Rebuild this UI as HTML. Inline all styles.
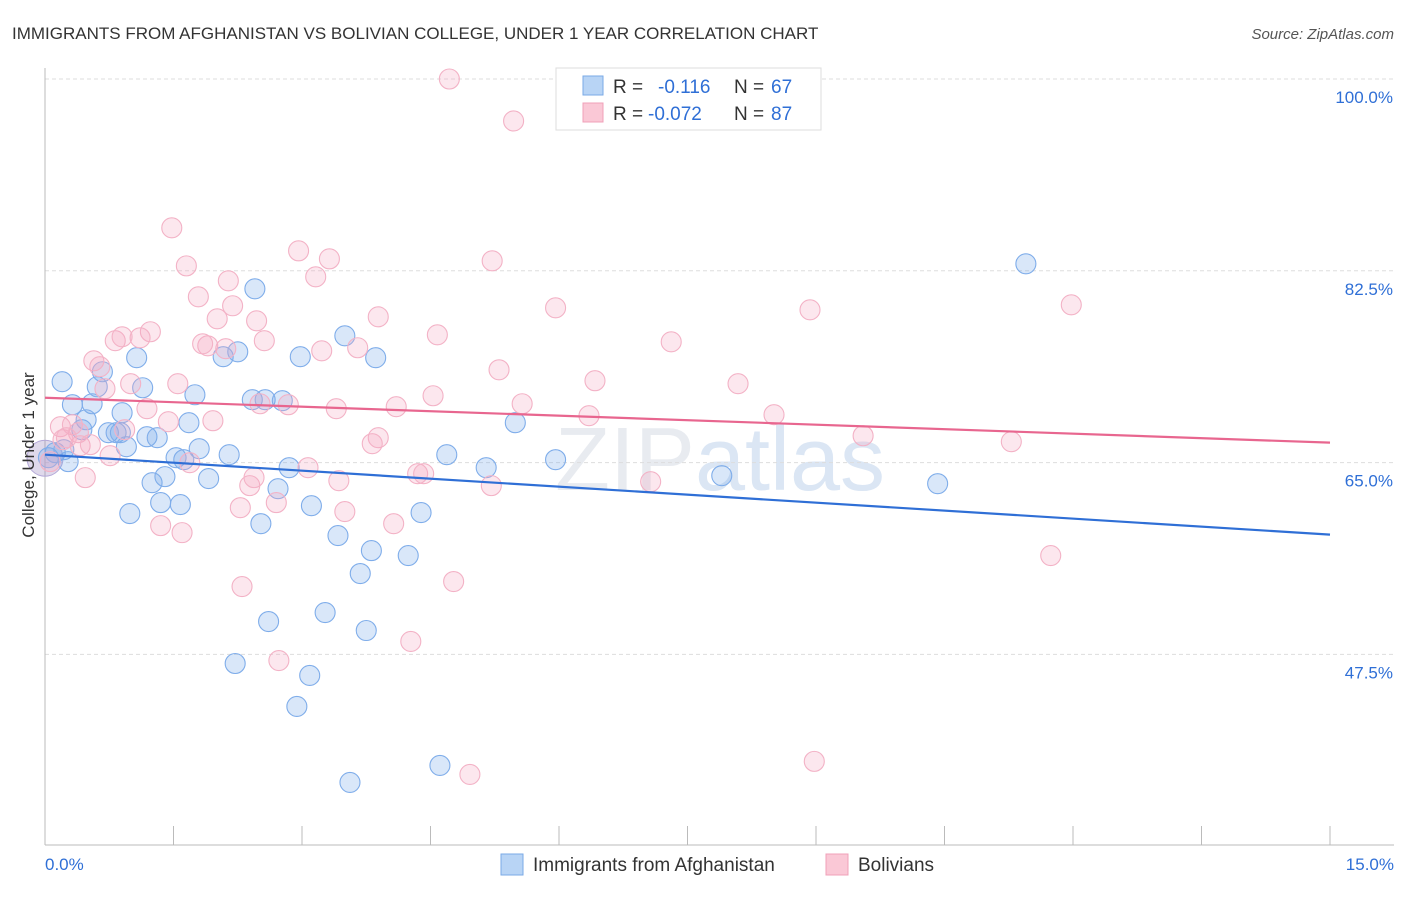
<!DOCTYPE html>
<html><head><meta charset="utf-8"><style>
body{margin:0;background:#fff;font-family:"Liberation Sans",sans-serif}
svg text{font-family:"Liberation Sans",sans-serif}
</style></head><body>
<svg id="chart" width="1406" height="892" viewBox="0 0 1406 892">
<text x="12" y="39" font-size="17" fill="#333">IMMIGRANTS FROM AFGHANISTAN VS BOLIVIAN COLLEGE, UNDER 1 YEAR CORRELATION CHART</text>
<text x="1394" y="39" font-size="15" fill="#555" text-anchor="end" font-style="italic">Source: ZipAtlas.com</text>
<text x="720" y="490" font-size="90" fill="#e8ebf0" text-anchor="middle" font-family="Liberation Serif">ZIP<tspan fill="#dbe6f4" font-family="Liberation Sans">atlas</tspan></text>
<g id="grid"></g>
<g id="axes"></g>
<g id="pts"></g>
<g id="lines"></g>
<text transform="translate(34,455) rotate(-90)" font-size="17" fill="#333" text-anchor="middle">College, Under 1 year</text>
<g>
<rect x="556" y="68" width="265" height="62" fill="#fff" stroke="#ddd"/>
<rect x="583" y="76" width="20" height="19" fill="#b8d4f5" stroke="#7aaae6"/>
<text x="613" y="93" font-size="19" fill="#333">R = </text><text x="658" y="93" font-size="19" fill="#2f6fd6">-0.116</text>
<text x="734" y="93" font-size="19" fill="#333">N = </text><text x="771" y="93" font-size="19" fill="#2f6fd6">67</text>
<rect x="583" y="103" width="20" height="19" fill="#fac8d6" stroke="#f0a0b8"/>
<text x="613" y="120" font-size="19" fill="#333">R = </text><text x="648" y="120" font-size="19" fill="#2f6fd6">-0.072</text>
<text x="734" y="120" font-size="19" fill="#333">N = </text><text x="771" y="120" font-size="19" fill="#2f6fd6">87</text>
</g>
<g>
<rect x="501" y="854" width="22" height="21" fill="#b8d4f5" stroke="#7aaae6"/>
<text x="533" y="871" font-size="19" fill="#333">Immigrants from Afghanistan</text>
<rect x="826" y="854" width="22" height="21" fill="#fac8d6" stroke="#f0a0b8"/>
<text x="858" y="871" font-size="19" fill="#333">Bolivians</text>
</g>
</svg>
<script>
const yTicks=[100,82.5,65,47.5];
const yTickLabels=["100.0%","82.5%","65.0%","47.5%"];
const xTickLabels=["0.0%","15.0%"];
const blueX=[0.20,0.32,0.55,0.48,0.61,0.67,0.90,0.74,0.83,0.95,0.43,0.27,0.12,0.04,1.07,1.14,1.19,1.31,1.25,1.40,1.58,1.35,0.99,1.53,1.62,1.68,1.75,1.80,1.91,2.15,2.08,2.25,2.45,2.42,2.57,2.77,2.98,2.85,2.72,2.52,3.11,2.61,2.22,3.09,2.94,3.27,3.42,3.50,3.68,3.81,3.86,3.75,4.24,4.39,4.69,5.15,5.49,5.96,7.90,10.42,11.45,3.56,4.61,0.22,0.88];
const blueY=[72.38,70.28,70.37,68.91,71.92,73.29,69.55,67.73,67.73,66.45,68.0,65.09,65.91,65.45,74.57,71.83,67.36,67.27,63.17,63.72,61.17,61.35,60.35,65.45,65.27,68.64,71.19,66.27,63.54,65.72,74.66,75.11,80.86,70.74,70.74,70.65,74.66,64.54,62.62,59.43,61.07,50.50,46.67,45.58,42.75,51.32,58.34,76.57,54.88,56.97,74.57,49.68,56.52,60.44,65.72,64.54,68.64,65.27,63.81,63.08,83.14,35.82,37.37,66.18,67.73];
const pinkX=[4.72,5.47,1.48,2.96,3.32,1.65,3.16,5.22,2.14,1.79,2.19,2.47,2.01,3.89,1.23,1.11,0.82,0.90,1.90,1.84,2.11,2.56,0.57,1.00,1.55,0.70,0.64,5.96,8.93,11.98,4.58,3.23,3.65,7.31,5.30,8.09,6.42,4.53,2.51,2.84,3.40,4.10,5.57,6.35,8.51,1.19,0.93,1.44,1.96,0.18,0.32,0.39,0.41,0.76,0.53,0.21,1.69,3.89,3.82,9.55,11.28,4.35,4.42,3.07,3.43,2.39,2.44,5.21,7.07,2.70,2.28,3.50,4.07,1.35,1.60,0.47,2.30,4.77,4.27,2.73,8.98,4.96,11.74,0.06,0.25];
const pinkY=[100.0,96.17,86.42,84.32,83.59,82.95,81.95,83.41,81.59,80.13,79.31,77.94,78.12,78.30,76.94,76.39,76.12,76.48,75.66,75.84,75.39,76.12,74.29,72.20,72.20,71.74,73.75,79.12,78.94,79.40,76.66,75.20,75.48,76.02,73.47,72.20,72.47,71.10,70.37,70.28,69.92,70.10,70.37,69.28,69.37,69.92,68.0,68.73,68.82,68.28,68.46,67.73,66.54,65.63,66.64,67.09,64.99,67.27,66.73,67.45,66.91,63.99,63.99,64.54,63.35,62.90,63.63,62.90,63.26,61.35,60.89,60.53,59.43,59.25,58.61,63.63,53.69,54.15,48.68,46.94,37.74,36.55,56.52,65.09,67.27];
const blueTrend=[65.72,58.43];
const pinkTrend=[70.92,66.82];
const NS="http://www.w3.org/2000/svg";
const X=v=>45+v/15*1285, Y=v=>79+(100-v)/17.5*191.8;
function mk(t,a,p){const e=document.createElementNS(NS,t);for(const k in a)e.setAttribute(k,a[k]);document.getElementById(p).appendChild(e);return e;}
yTicks.forEach((t,i)=>{
 const l=mk('line',{x1:45,x2:1394,y1:Y(t),y2:Y(t),stroke:'#ddd','stroke-dasharray':'4,3'},'grid');
 
 
 const tx=mk('text',{x:1393,y:Y(t)+24,'font-size':17,fill:'#2f6fd6','text-anchor':'end'},'axes');
 tx.textContent=yTickLabels[i];
 
 
});
const ax=mk('line',{x1:45,x2:45,y1:68,y2:845,stroke:'#bbb'},'axes');


const bx=mk('line',{x1:45,x2:1394,y1:845,y2:845,stroke:'#bbb'},'axes');


for(let i=0;i<=10;i++){const t=mk('line',{x1:X(i*1.5),x2:X(i*1.5),y1:826,y2:845,stroke:'#bbb'},'axes');
 
 }
[[0,'start',45],[15,'end',1394]].forEach((d,i)=>{const t=mk('text',{x:d[2],y:870,'font-size':17,fill:'#2f6fd6','text-anchor':d[1]},'axes');t.textContent=xTickLabels[i];
 
 });
const big=mk('circle',{cx:X(0.0),cy:Y(65.4),r:18,fill:'rgba(150,130,190,0.3)',stroke:'#b4a8d8'},'pts');


blueX.forEach((x,i)=>{const c=mk('circle',{cx:X(x),cy:Y(blueY[i]),r:10,fill:'rgba(120,170,235,0.28)',stroke:'#7fadea','stroke-width':1.1},'pts');
 
 });
pinkX.forEach((x,i)=>{const c=mk('circle',{cx:X(x),cy:Y(pinkY[i]),r:10,fill:'rgba(245,170,195,0.28)',stroke:'#f3b2c6','stroke-width':1.1},'pts');
 
 });
const bl=mk('line',{x1:X(0),y1:Y(blueTrend[0]),x2:X(15),y2:Y(blueTrend[1]),stroke:'#2f6fd6','stroke-width':2.2},'lines');


const pl=mk('line',{x1:X(0),y1:Y(pinkTrend[0]),x2:X(15),y2:Y(pinkTrend[1]),stroke:'#e8668f','stroke-width':2.2},'lines');


</script>
</body></html>
